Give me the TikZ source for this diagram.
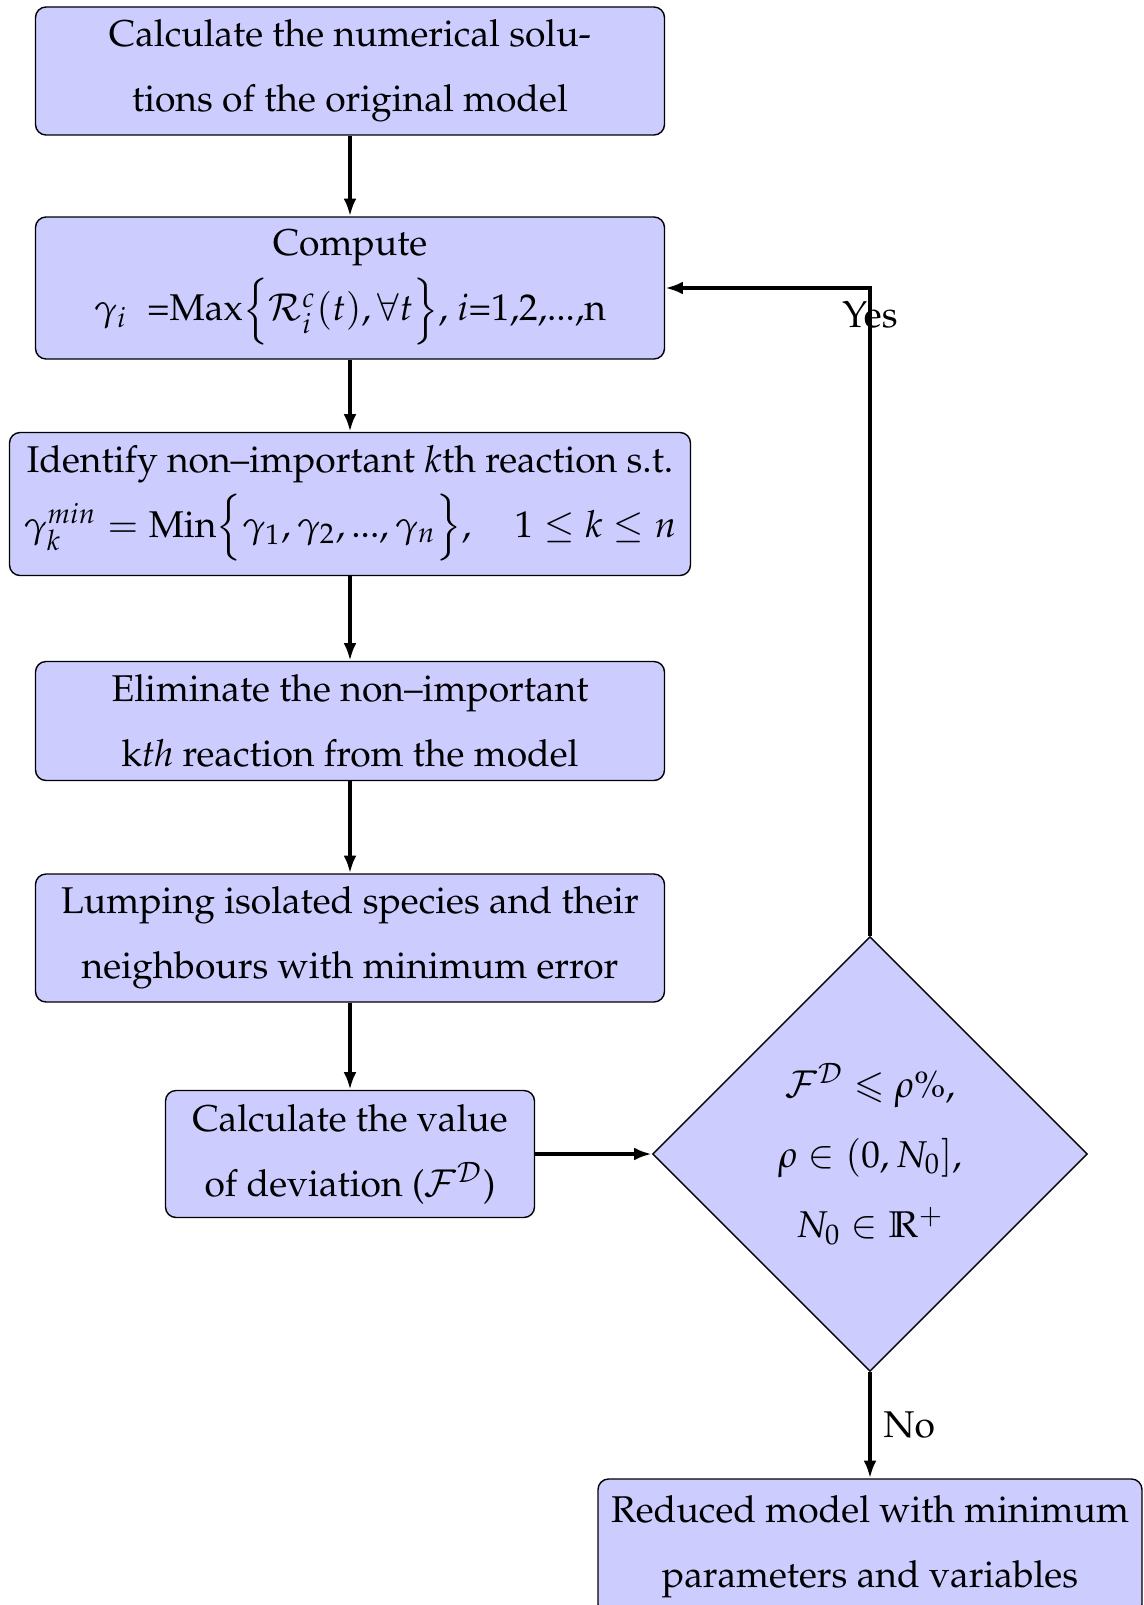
\documentclass[tikz,border=0pt]{standalone}
\usepackage{amsmath, amssymb}
\usepackage[T1]{fontenc}
\usepackage{mathpazo}
\usepackage{tikz}
\usetikzlibrary{arrows.meta, shapes.geometric}

\tikzset{
  process/.style={rectangle, rounded corners=3pt, draw, fill=blue!20, align=center,
    font=\fontsize{10.6}{18.5}\selectfont, minimum width=6.29cm, minimum height=1.28cm},
  decision/.style={diamond, draw, fill=blue!20, align=center,
    font=\fontsize{10.6}{20}\selectfont, minimum width=4.35cm, minimum height=4.35cm, inner sep=0pt},
  flow/.style={->, line width=1.1pt}
}

\begin{document}
\begin{tikzpicture}[>={Latex[length=5pt,width=3.6pt]}, font=\fontsize{10.6}{18.5}\selectfont]
    \useasboundingbox (0,0) rectangle (11.43,-16.05);

    % 1. main column of steps
    \node[process] (calc) at (3.50,-0.71)
      {Calculate the numerical solu-\\tions of the original model};
    \node[process, minimum height=1.42cm] (compute) at (3.50,-2.88)
      {Compute\\ $\gamma_i\ \;$=Max$\Big\{\mathcal{R}_i^c(t),\forall t\Big\}$, $i$=1,2,...,n};
    \node[process, minimum width=6.81cm, minimum height=1.43cm] (identify) at (3.50,-5.04)
      {Identify non--important $k$th reaction s.t.\\
       $\gamma_k^{min}=\text{Min}\Big\{\gamma_1,\gamma_2,...,\gamma_n\Big\},\quad 1\le k\le n$};
    \node[process, minimum height=1.19cm] (eliminate) at (3.50,-7.21)
      {Eliminate the non--important\\ k\textit{th} reaction from the model};
    \node[process] (lumping) at (3.50,-9.38)
      {Lumping isolated species and their\\ neighbours with minimum error};
    \node[process, minimum width=3.69cm, minimum height=1.27cm] (deviation) at (3.50,-11.54)
      {Calculate the value\\ of deviation ($\mathcal{F}^{\mathcal{D}}$)};

    % 2. test and result
    \node[decision] (check) at (8.70,-11.54)
      {$\mathcal{F}^{\mathcal{D}}\leqslant\rho\%$,\\ $\rho\in(0,N_0]$,\\ $N_0\in\mathbb{R}^+$};
    \node[process, minimum width=5.44cm, minimum height=1.36cm] (reduced) at (8.70,-15.47)
      {Reduced model with minimum\\ parameters and variables};

    % 3. connectors
    \draw[flow] (calc) -- (compute);
    \draw[flow] (compute) -- (identify);
    \draw[flow] (identify) -- (eliminate);
    \draw[flow] (eliminate) -- (lumping);
    \draw[flow] (lumping) -- (deviation);
    \draw[flow] (deviation) -- (check);
    \draw[flow] (check.north) |- node[below] {Yes} (compute.east);
    \draw[flow] (check.south) -- node[right] {No} (reduced.north);

  \end{tikzpicture}
\end{document}
